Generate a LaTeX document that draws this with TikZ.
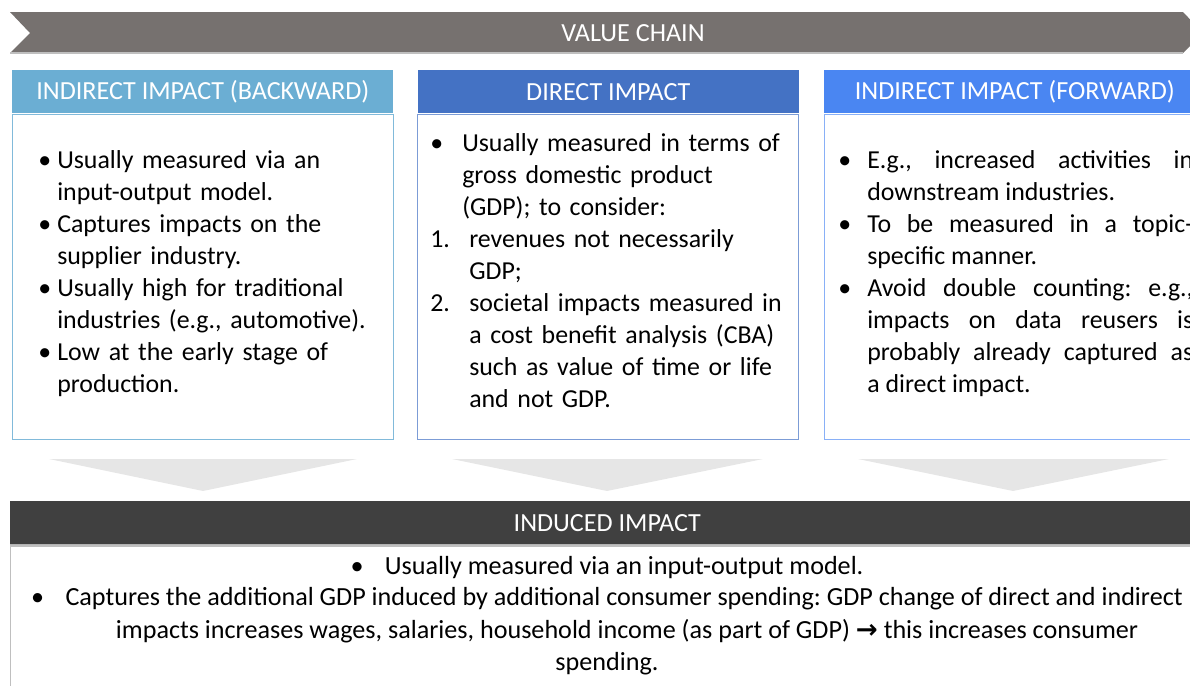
\documentclass[tikz,border=0pt]{standalone}
\usepackage{fontspec}
\setmainfont{Carlito}
\newfontfamily\arrowfont{DejaVu Sans}
\usepackage{enumitem}
\usetikzlibrary{positioning}

\definecolor{chaingray}{RGB}{118,113,111}
\definecolor{backblue}{RGB}{107,174,211}
\definecolor{directblue}{RGB}{68,114,196}
\definecolor{forwardblue}{RGB}{74,134,242}
\definecolor{induceddark}{RGB}{64,64,64}
\definecolor{arrowgray}{RGB}{230,230,230}

\newcommand\headfont{\fontsize{19.6pt}{23pt}\selectfont}
\newcommand\bodyfont{\frenchspacing\fontsize{19.4pt}{24pt}\selectfont}
\newcommand\inducedfont{\frenchspacing\fontsize{19.6pt}{24.5pt}\selectfont}

\tikzset{
  header/.style={inner sep=0pt, minimum width=381*0.75pt, minimum height=43*0.75pt, text=white, font=\headfont},
  bodybox/.style={draw, line width=0.9pt, inner sep=0pt, minimum width=381*0.75pt, minimum height=325*0.75pt},
  bodytext/.style={anchor=north west, inner sep=0pt, font=\bodyfont}
}

\begin{document}
\begin{tikzpicture}[x=0.75pt, y=-0.75pt]
    \useasboundingbox (0,0) rectangle (1190,686);
    \begin{scope}
    \clip (0,0) rectangle (1190,686);

    % Value chain banner
    \fill[chaingray] (10,12) -- (1183,12) -- (1203,33) -- (1183,53) -- (10,53) -- (30,33) -- cycle;
    \draw[black!25, line width=0.8pt] (10,53) -- (1183,53);
    \node[text=white, font=\headfont] (chain) at (633,33) {VALUE CHAIN};

    % Column headers and boxes
    \node[header, fill=backblue, anchor=north west] (backhead) at (12,70) {INDIRECT IMPACT (BACKWARD)};
    \node[bodybox, draw=backblue!85, below=0pt of backhead] (backbody) {};
    \node[header, fill=directblue, right=18pt of backhead] (directhead) {DIRECT IMPACT};
    \node[bodybox, draw=directblue!70, below=0pt of directhead] (directbody) {};
    \node[header, fill=forwardblue, right=18.75pt of directhead] (forwardhead) {INDIRECT IMPACT (FORWARD)};
    \node[bodybox, draw=forwardblue!65, below=0pt of forwardhead] (forwardbody) {};

    % Column texts
    \node[bodytext, text width=345*0.75pt, align=left] (backtext) at (38,136) {%
      \begin{itemize}[nosep, leftmargin=14.25pt, labelwidth=14.25pt, labelsep=0pt, align=left]
        \item Usually measured via an\newline input-output model.
        \item Captures impacts on the\newline supplier industry.
        \item Usually high for traditional\newline industries (e.g., automotive).
        \item Low at the early stage of\newline production.
      \end{itemize}};
    \node[bodytext, text width=362*0.75pt, align=left] (directtext) at (430,119) {%
      \begin{itemize}[nosep, leftmargin=24pt, labelwidth=24pt, labelsep=0pt, align=left]
        \item Usually measured in terms of\newline gross domestic product\newline (GDP); to consider:
      \end{itemize}
      \begin{enumerate}[nosep, leftmargin=29.25pt, labelwidth=29.25pt, labelsep=0pt, align=left, label=\arabic*.]
        \item revenues not necessarily\newline GDP;
        \item societal impacts measured in\newline a cost benefit analysis (CBA)\newline such as value of time or life\newline and not GDP.
      \end{enumerate}};
    \node[bodytext, text width=355*0.75pt, align=justify] (forwardtext) at (838,136) {%
      \begin{itemize}[nosep, leftmargin=21.75pt, labelwidth=21.75pt, labelsep=0pt, align=left]
        \item E.g., increased activities in\linebreak downstream industries.
        \item To be measured in a topic-\linebreak specific manner.
        \item Avoid double counting: e.g.,\linebreak impacts on data reusers is\linebreak probably already captured as\linebreak a direct impact.
      \end{itemize}};

    % Down arrows
    \fill[arrowgray] (49,459) -- (357,459) -- (203,491) -- cycle;
    \fill[arrowgray] (452,459) -- (763,459) -- (607,491) -- cycle;
    \fill[arrowgray] (858,459) -- (1169,459) -- (1013,491) -- cycle;

    % Induced impact
    \node[header, fill=induceddark, anchor=north west, minimum width=1194*0.75pt] (induced) at (10,501) {INDUCED IMPACT};
    \draw[black!30, line width=1pt] (induced.south west) -- (induced.south east);
    \node[draw=black!25, line width=0.8pt, inner sep=0pt, minimum width=1194*0.75pt, minimum height=160*0.75pt, below=0.7pt of induced] (inducedbody) {};
    \node[font=\inducedfont, align=center, inner sep=0pt] (inducedtext) at (607,616) {%
      \textbullet\hspace{16pt}Usually measured via an input-output model.\\[-1.5pt]
      \textbullet\hspace{16pt}Captures the additional GDP induced by additional consumer spending: GDP change of direct and indirect\\
      \rule{30pt}{0pt}impacts increases wages, salaries, household income (as part of GDP) {\arrowfont\bfseries →} this increases consumer\\
      spending.};
    \end{scope}
\end{tikzpicture}
\end{document}
